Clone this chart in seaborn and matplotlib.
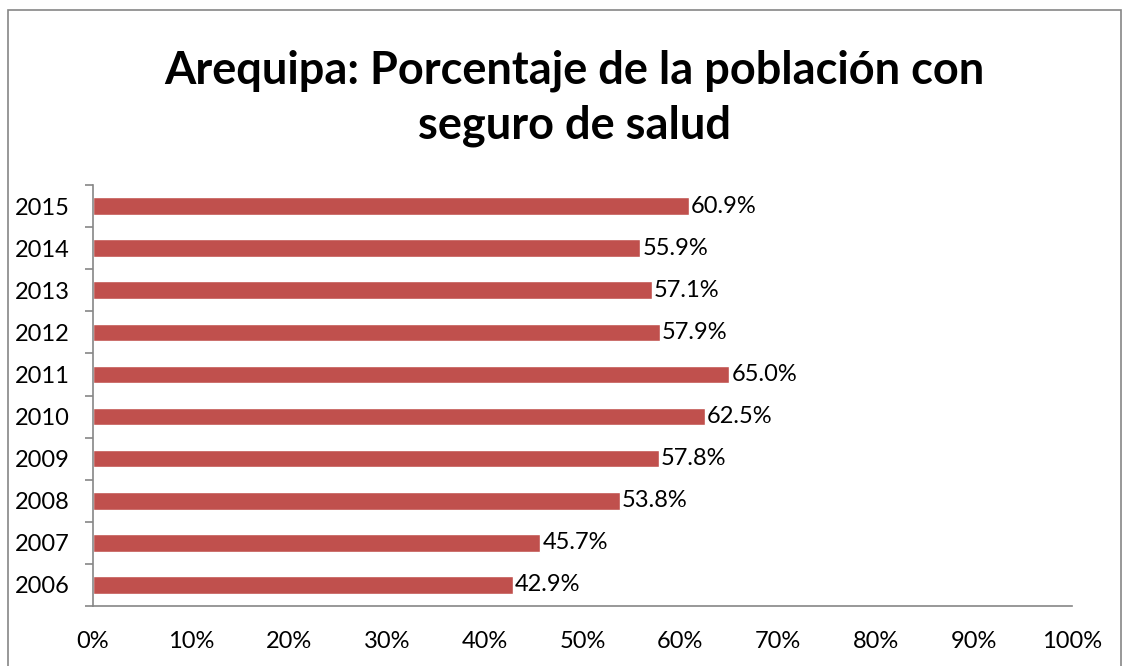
import matplotlib
matplotlib.use("Agg")
import matplotlib.pyplot as plt
import seaborn as sns
import pandas as pd
from matplotlib.patches import Rectangle

years = ['2006', '2007', '2008', '2009', '2010', '2011', '2012', '2013', '2014', '2015']
pct = [42.9, 45.7, 53.8, 57.8, 62.5, 65.0, 57.9, 57.1, 55.9, 60.9]
xticks = [0, 10, 20, 30, 40, 50, 60, 70, 80, 90, 100]
title = "Arequipa: Porcentaje de la población con\nseguro de salud"

sns.set_style("white")
plt.rcParams['font.family'] = ['Lato', 'DejaVu Sans']
plt.rcParams['text.color'] = 'black'
plt.rcParams['xtick.labelcolor'] = 'black'
plt.rcParams['ytick.labelcolor'] = 'black'

df = pd.DataFrame({'year': years, 'pct': pct})
order = years[::-1]

fig = plt.figure(figsize=(11.3, 6.66), dpi=100)
ax = fig.add_axes([93 / 1130, 60 / 666, (1072 - 93) / 1130, (606 - 185) / 666])

sns.barplot(data=df, x='pct', y='year', order=order, color='#C0504D',
            saturation=1, width=0.42, ax=ax)

for i, y in enumerate(order):
    v = df.loc[df.year == y, 'pct'].iloc[0]
    ax.text(v + 0.2, i, f"{v:.1f}%", va='center', ha='left', fontsize=17)

ax.set_xlim(0, 100)
ax.set_ylim(len(order) - 0.5, -0.5)
ax.set_xticks(xticks)
ax.set_xticklabels([f"{t}%" for t in xticks], fontsize=17)
ax.tick_params(axis='x', length=0, pad=18)
ax.set_yticks([i - 0.5 for i in range(len(order) + 1)], minor=True)
ax.set_yticks(range(len(order)))
ax.set_yticklabels(order, fontsize=17)
ax.tick_params(axis='y', which='major', length=0, pad=17)
ax.tick_params(axis='y', which='minor', length=6, color='#868686', width=1.2, left=True)
ax.set_xlabel('')
ax.set_ylabel('')
for s in ['top', 'right']:
    ax.spines[s].set_visible(False)
for s in ['left', 'bottom']:
    ax.spines[s].set_color('#868686')
    ax.spines[s].set_linewidth(1.2)

fig.text(574 / 1130, 1 - 98 / 666, title, ha='center', va='center',
         fontsize=32.5, fontweight='bold', linespacing=1.38)

fig.patches.append(Rectangle((8 / 1130, -0.05), (1121 - 8) / 1130, 1.05 - 10 / 666,
                             transform=fig.transFigure, fill=False,
                             edgecolor='#868686', linewidth=1.2))

fig.savefig("out.png", dpi=100)
